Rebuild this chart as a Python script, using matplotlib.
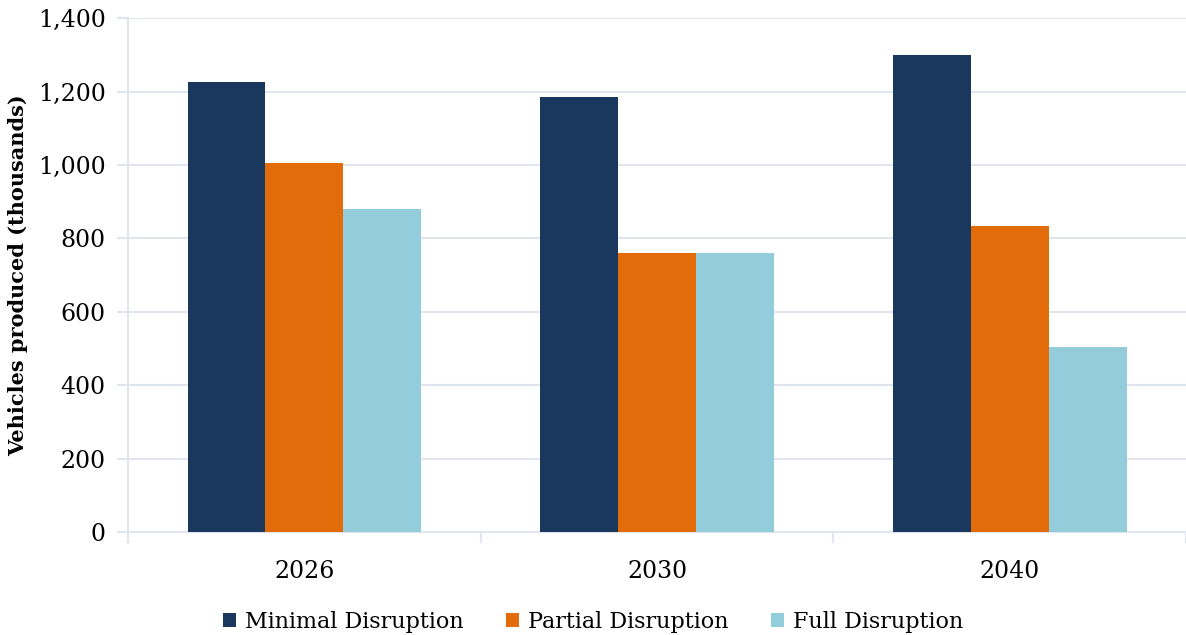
import numpy as np
import matplotlib
matplotlib.use("Agg")
import matplotlib.pyplot as plt
from matplotlib.ticker import FuncFormatter, FixedLocator

years = ["2026", "2030", "2040"]
series_names = ["Minimal Disruption", "Partial Disruption", "Full Disruption"]
minimal = [1225, 1185, 1300]
partial = [1005, 760, 835]
full = [880, 760, 505]
colors = ["#1A375E", "#E36C0A", "#93CDDC"]

plt.rcParams["font.family"] = ["DejaVu Serif"]

fig = plt.figure(figsize=(11.86, 6.35), dpi=100)
ax = fig.add_axes([0.108, 0.162, 0.892, 0.8095])

x = np.arange(len(years))
w = 0.221
for i, (vals, name, c) in enumerate(zip([minimal, partial, full], series_names, colors)):
    ax.bar(x + (i - 1) * w, vals, width=w, color=c, label=name, zorder=3,
           edgecolor="none")

grid_c = "#E1E6EE"
ax.set_ylim(0, 1400)
ax.set_xlim(-0.5, 2.5)
ax.set_yticks(np.arange(0, 1401, 200))
ax.yaxis.set_major_formatter(FuncFormatter(lambda v, p: f"{int(v):,}"))
ax.grid(axis="y", color=grid_c, linewidth=1.5, zorder=0)

ax.set_xticks(x)
ax.set_xticklabels(years)
ax.xaxis.set_minor_locator(FixedLocator([-0.5, 0.5, 1.5, 2.5]))
ax.tick_params(axis="x", which="major", length=0, pad=20, labelsize=17)
ax.tick_params(axis="x", which="minor", length=8, width=1.5, color=grid_c)
ax.tick_params(axis="y", length=8, width=1.5, color=grid_c, labelsize=17, pad=8)

for s in ["top", "right"]:
    ax.spines[s].set_visible(False)
for s in ["left", "bottom"]:
    ax.spines[s].set_color(grid_c)
    ax.spines[s].set_linewidth(1.5)

ax.set_ylabel("Vehicles produced (thousands)", fontsize=15, fontweight="bold",
              labelpad=7)

fig.legend(loc="lower center", bbox_to_anchor=(0.5, -0.028), ncol=3, frameon=False,
           fontsize=16, handlelength=0.6, handleheight=0.6, handletextpad=0.4,
           columnspacing=1.9)

fig.savefig("out.png", dpi=100)
